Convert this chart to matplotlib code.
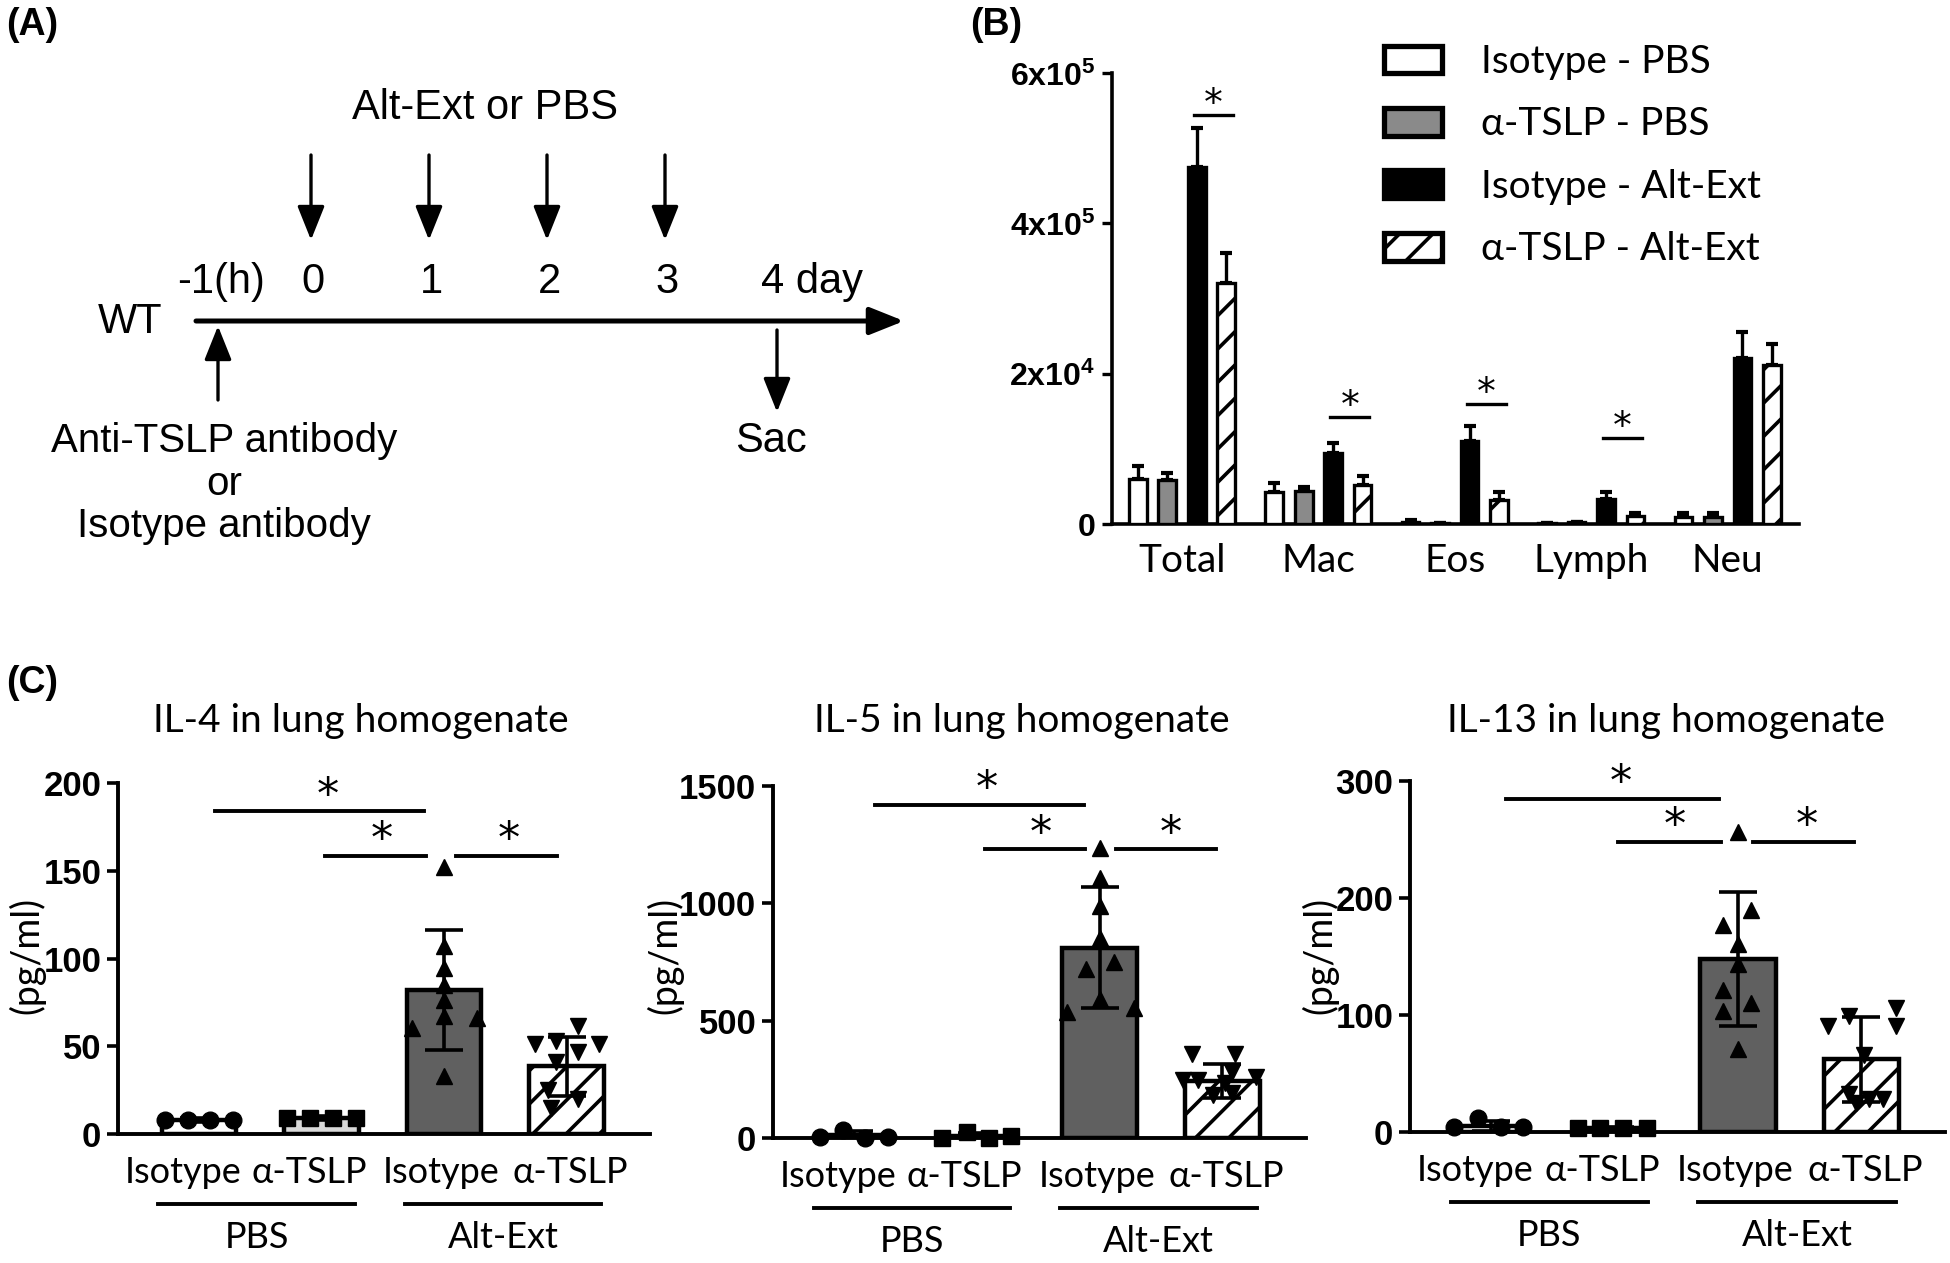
import matplotlib
matplotlib.use('Agg')
import matplotlib.pyplot as plt
import numpy as np

W, H = 1950, 1263
NARROW = ['Liberation Sans Narrow', 'Liberation Sans', 'DejaVu Sans']
HUMAN = ['Lato', 'Open Sans', 'DejaVu Sans']
STAR = ['DejaVu Sans']
plt.rcParams['font.family'] = HUMAN
plt.rcParams['mathtext.fontset'] = 'custom'
plt.rcParams['mathtext.bf'] = 'Liberation Sans:bold'
plt.rcParams['mathtext.rm'] = 'Liberation Sans'
plt.rcParams['hatch.linewidth'] = 2.6

# ---------------- data ----------------
# Panel A (schedule)
challenge_days = [0, 1, 2, 3]
day_labels = ['0', '1', '2', '3']

# Panel B (BAL cells); values on the plotted linear scale, in units of 1e5
cell_types = ['Total', 'Mac', 'Eos', 'Lymph', 'Neu']
b_series = ['Isotype - PBS', 'α-TSLP - PBS', 'Isotype - Alt-Ext', 'α-TSLP - Alt-Ext']
b_iso_pbs = [0.60, 0.42, 0.03, 0.01, 0.09]
b_iso_pbs_err = [0.17, 0.12, 0.02, 0.0, 0.05]
b_tslp_pbs = [0.59, 0.435, 0.01, 0.02, 0.09]
b_tslp_pbs_err = [0.09, 0.055, 0.0, 0.0, 0.05]
b_iso_alt = [4.75, 0.94, 1.11, 0.33, 2.21]
b_iso_alt_err = [0.52, 0.14, 0.20, 0.09, 0.34]
b_tslp_alt = [3.20, 0.52, 0.32, 0.10, 2.11]
b_tslp_alt_err = [0.40, 0.12, 0.10, 0.05, 0.28]
b_yticks = [0, 2, 4, 6]
b_yticklabels = [r'$\mathbf{0}$', r'$\mathbf{2x10^4}$', r'$\mathbf{4x10^5}$', r'$\mathbf{6x10^5}$']
b_sig_groups = [0, 1, 2, 3]
b_sig_y = [5.44, 1.43, 1.59, 1.14]

# Panel C (cytokines in lung homogenate)
conditions = ['Isotype', 'α-TSLP', 'Isotype', 'α-TSLP']
treatments = ['PBS', 'Alt-Ext']
c_titles = ['IL-4 in lung homogenate', 'IL-5 in lung homogenate', 'IL-13 in lung homogenate']
c_ylabel = '(pg/ml)'

il4_mean = [8, 9, 82, 38.5]
il4_sd = [1, 1, 34, 17]
il4_points = [[8, 8, 8, 8], [9, 9, 9, 9],
              [152, 107, 94.5, 85, 76.6, 67, 60.6, 66, 33],
              [51, 53, 61.6, 51, 46.5, 41, 25, 20, 15]]
il4_yticks = [0, 50, 100, 150, 200]
il4_sig_lines = [(0.13, 1.84, 183.8), (1.03, 1.85, 158.5), (2.10, 2.92, 158.5)]
il4_star_x = [1.05, 1.49, 2.53]

il5_mean = [14, 10, 811, 243]
il5_sd = [15, 10, 257, 74]
il5_points = [[3, 35, 2, 3], [2, 24, 1, 7],
              [1237, 1110, 988, 854, 720, 748, 593, 536, 555],
              [357, 357, 282, 261, 247, 233, 183, 190, 247]]
il5_yticks = [0, 500, 1000, 1500]
il5_sig_lines = [(0.17, 1.87, 1421), (1.07, 1.88, 1230), (2.13, 2.95, 1230)]
il5_star_x = [1.08, 1.52, 2.58]

il13_mean = [5, 3, 148, 62]
il13_sd = [4, 1, 57, 36]
il13_points = [[4, 12, 4, 4], [3, 3, 3, 3],
               [256.7, 189.6, 177, 161, 144, 121.7, 110, 103, 71],
               [90.6, 99, 106, 90.6, 65.7, 32.5, 28, 28, 25]]
il13_yticks = [0, 100, 200, 300]
il13_sig_lines = [(0.12, 1.85, 285), (1.03, 1.86, 247.7), (2.12, 2.94, 247.7)]
il13_star_x = [1.05, 1.49, 2.56]

# horizontal spread of the scatter points (layout only)
il4_jit = [[-0.28, -0.09, 0.09, 0.28], [-0.28, -0.09, 0.09, 0.28],
           [0, 0, 0, 0, 0, 0, -0.26, 0.27, 0],
           [-0.26, -0.09, 0.09, 0.26, 0.09, -0.09, -0.15, 0.09, -0.13]]
il5_jit = [[-0.28, -0.09, 0.09, 0.28], [-0.28, -0.08, 0.10, 0.28],
           [0, 0, 0, 0, -0.11, 0.12, 0, -0.27, 0.28],
           [-0.25, 0.10, 0.08, 0.27, -0.20, 0.02, -0.08, 0.08, -0.32]]
il13_jit = [[-0.30, -0.11, 0.08, 0.26], [-0.30, -0.12, 0.07, 0.26],
            [0, 0.11, -0.12, 0, 0, -0.12, 0.11, -0.12, 0],
            [-0.27, -0.10, 0.28, 0.28, 0.02, -0.10, 0.06, 0.18, -0.04]]
# label positions under the bars (layout only)
c_label_pos = [-0.13, 0.90, 1.98, 3.03]

# ---------------- figure ----------------
fig = plt.figure(figsize=(W / 100, H / 100), dpi=100)


def px_axes(left, top, right, bottom):
    return fig.add_axes([left / W, 1 - bottom / H, (right - left) / W, (bottom - top) / H])


ov = fig.add_axes([0, 0, 1, 1], zorder=-5)
ov.set_xlim(0, W)
ov.set_ylim(H, 0)
ov.axis('off')

# panel labels
for lab, x, y in [('(A)', 6, 25), ('(B)', 970, 25), ('(C)', 6, 683)]:
    ov.text(x, y, lab, family=NARROW, fontweight='bold', fontsize=27, ha='left', va='center')

# ---------------- Panel A ----------------
ax_fs = 29
x_day0, day_step = 311, 118
arrow_kw = dict(arrowstyle='-|>,head_length=0.95,head_width=0.38', lw=2.4, color='k',
                mutation_scale=22, shrinkA=0, shrinkB=0)
ov.text(485, 108, 'Alt-Ext or PBS', family=NARROW, fontsize=ax_fs + 1, ha='center', va='center')
for d, lab in zip(challenge_days, day_labels):
    x = x_day0 + d * day_step
    ov.annotate('', xy=(x, 240), xytext=(x, 155), arrowprops=arrow_kw)
    ov.text(x + 2, 282, lab, family=NARROW, fontsize=ax_fs + 1, ha='center', va='center')
ov.text(221, 282, '-1(h)', family=NARROW, fontsize=ax_fs + 1, ha='center', va='center')
x4 = x_day0 + 4 * day_step
ov.text(x4 - 22, 282, '4 day', family=NARROW, fontsize=ax_fs + 1, ha='left', va='center')
ov.annotate('', xy=(904, 321), xytext=(196, 321),
            arrowprops=dict(arrowstyle='-|>,head_length=0.95,head_width=0.38', lw=3.6,
                            color='k', mutation_scale=22, shrinkA=0, shrinkB=0))
ov.text(130, 322, 'WT', family=NARROW, fontsize=ax_fs + 1, ha='center', va='center')
ov.annotate('', xy=(218, 326), xytext=(218, 400), arrowprops=arrow_kw)
ov.annotate('', xy=(x4 - 6, 412), xytext=(x4 - 6, 330), arrowprops=arrow_kw)
ov.text(224, 441, 'Anti-TSLP antibody', family=NARROW, fontsize=ax_fs, ha='center', va='center')
ov.text(224, 484, 'or', family=NARROW, fontsize=ax_fs, ha='center', va='center')
ov.text(224, 526, 'Isotype antibody', family=NARROW, fontsize=ax_fs, ha='center', va='center')
ov.text(771, 441, 'Sac', family=NARROW, fontsize=ax_fs + 1, ha='center', va='center')

# ---------------- Panel B ----------------
axB = px_axes(1112, 73, 1799, 524)
xg = np.arange(len(cell_types))
offs = [-0.324, -0.108, 0.108, 0.324]
bw = 0.13
b_vals = [b_iso_pbs, b_tslp_pbs, b_iso_alt, b_tslp_alt]
b_errs = [b_iso_pbs_err, b_tslp_pbs_err, b_iso_alt_err, b_tslp_alt_err]
b_fc = ['white', '#8a8a8a', 'black', 'white']
b_hatch = [None, None, None, '/']
handles = []
for i in range(4):
    xs = xg + offs[i]
    bars = axB.bar(xs, b_vals[i], bw, color=b_fc[i], edgecolor='black', lw=2.4,
                   hatch=b_hatch[i], label=b_series[i], zorder=3)
    handles.append(bars)
    axB.errorbar(xs, b_vals[i], yerr=[np.zeros(len(xs)), b_errs[i]], fmt='none',
                 ecolor='black', elinewidth=2.4, capsize=4.5, capthick=3, zorder=2)
for g, y in zip(b_sig_groups, b_sig_y):
    x1 = g + offs[2] - 0.02
    x2 = g + offs[3] + 0.05
    axB.plot([x1, x2], [y, y], color='black', lw=2.4, clip_on=False)
    axB.annotate('*', xy=((x1 + x2) / 2, y), xytext=(0, 0), textcoords='offset points',
                 ha='center', va='baseline', fontsize=27, family=STAR,
                 annotation_clip=False)
axB.set_xlim(-0.513, 4.523)
axB.set_ylim(0, 6)
axB.set_yticks(b_yticks)
axB.set_yticklabels(b_yticklabels, fontsize=23)
axB.set_xticks(xg)
axB.set_xticklabels(cell_types, fontsize=28)
axB.tick_params(axis='x', length=0, pad=14)
axB.tick_params(axis='y', length=7, width=2.4, pad=5)
for s in ['top', 'right']:
    axB.spines[s].set_visible(False)
for s in ['left', 'bottom']:
    axB.spines[s].set_linewidth(2.6)
axB.patch.set_alpha(0)
leg = fig.legend(handles=handles, labels=b_series, loc='upper left',
                 bbox_to_anchor=(1384 / W, 1 - 44 / H), frameon=False, fontsize=28,
                 handlelength=1.5, handleheight=0.72, handletextpad=1.0,
                 labelspacing=0.68, borderpad=0, borderaxespad=0)
for p in leg.get_patches():
    p.set_linewidth(3.8)

# ---------------- Panel C ----------------
c_rects = [(118, 783, 650, 1134), (773, 786, 1306, 1138), (1410, 781, 1945, 1132)]
c_title_x = [361, 1022, 1666]
c_ylabel_x = [27, 665, 1320]
c_means = [il4_mean, il5_mean, il13_mean]
c_sds = [il4_sd, il5_sd, il13_sd]
c_points = [il4_points, il5_points, il13_points]
c_jits = [il4_jit, il5_jit, il13_jit]
c_yticks = [il4_yticks, il5_yticks, il13_yticks]
c_sig = [il4_sig_lines, il5_sig_lines, il13_sig_lines]
c_stars = [il4_star_x, il5_star_x, il13_star_x]
c_fc = ['white', '#d9d9d9', '#606060', 'white']
c_hatch = [None, None, None, '/']
c_markers = ['o', 's', '^', 'v']
c_ms = [12, 11, 11, 11]

for k in range(3):
    ax = px_axes(*c_rects[k])
    xc = np.arange(4)
    for i in range(4):
        ax.bar(xc[i], c_means[k][i], 0.61, color=c_fc[i], edgecolor='black', lw=3.2,
               hatch=c_hatch[i], zorder=2)
        ax.errorbar(xc[i], c_means[k][i], yerr=c_sds[k][i], fmt='none', ecolor='black',
                    elinewidth=2.6, capsize=14, capthick=2.6, zorder=4)
        pts = c_points[k][i]
        ax.plot(xc[i] + np.array(c_jits[k][i]), pts, ls='none', marker=c_markers[i],
                ms=c_ms[i], color='black', zorder=5, clip_on=False)
    for (x1, x2, y) in c_sig[k]:
        ax.plot([x1, x2], [y, y], color='black', lw=2.8, clip_on=False)
    for (x1, x2, y), sx in zip(c_sig[k], c_stars[k]):
        ax.annotate('*', xy=(sx, y), xytext=(0, 2), textcoords='offset points',
                    ha='center', va='baseline', fontsize=32, family=STAR,
                    annotation_clip=False)
    yt = c_yticks[k]
    ax.set_ylim(0, yt[-1])
    ax.set_yticks(yt)
    ax.set_yticklabels([str(v) for v in yt], family=NARROW, fontweight='bold', fontsize=25)
    ax.set_xlim(-0.66, 3.68)
    ax.set_xticks(c_label_pos)
    ax.set_xticklabels(conditions, fontsize=26)
    ax.tick_params(axis='x', length=0, pad=16)
    ax.tick_params(axis='y', length=8, width=2.6, pad=4)
    for s in ['top', 'right']:
        ax.spines[s].set_visible(False)
    for s in ['left', 'bottom']:
        ax.spines[s].set_linewidth(2.8)
    ax.patch.set_alpha(0)
    tr = ax.get_xaxis_transform()
    for (a, b), name in zip([(-0.33, 1.27), (1.68, 3.28)], treatments):
        ax.plot([a, b], [-0.2, -0.2], color='black', lw=2.8, transform=tr, clip_on=False)
        ax.text((a + b) / 2, -0.295, name, transform=tr, ha='center', va='center', fontsize=26)
    fig.text(c_title_x[k] / W, 1 - 721 / H, c_titles[k], ha='center', va='center', fontsize=28)
    fig.text(c_ylabel_x[k] / W, 1 - 955 / H, c_ylabel, ha='center', va='center',
             rotation=90, fontsize=27)

fig.savefig('out.png', dpi=100)
